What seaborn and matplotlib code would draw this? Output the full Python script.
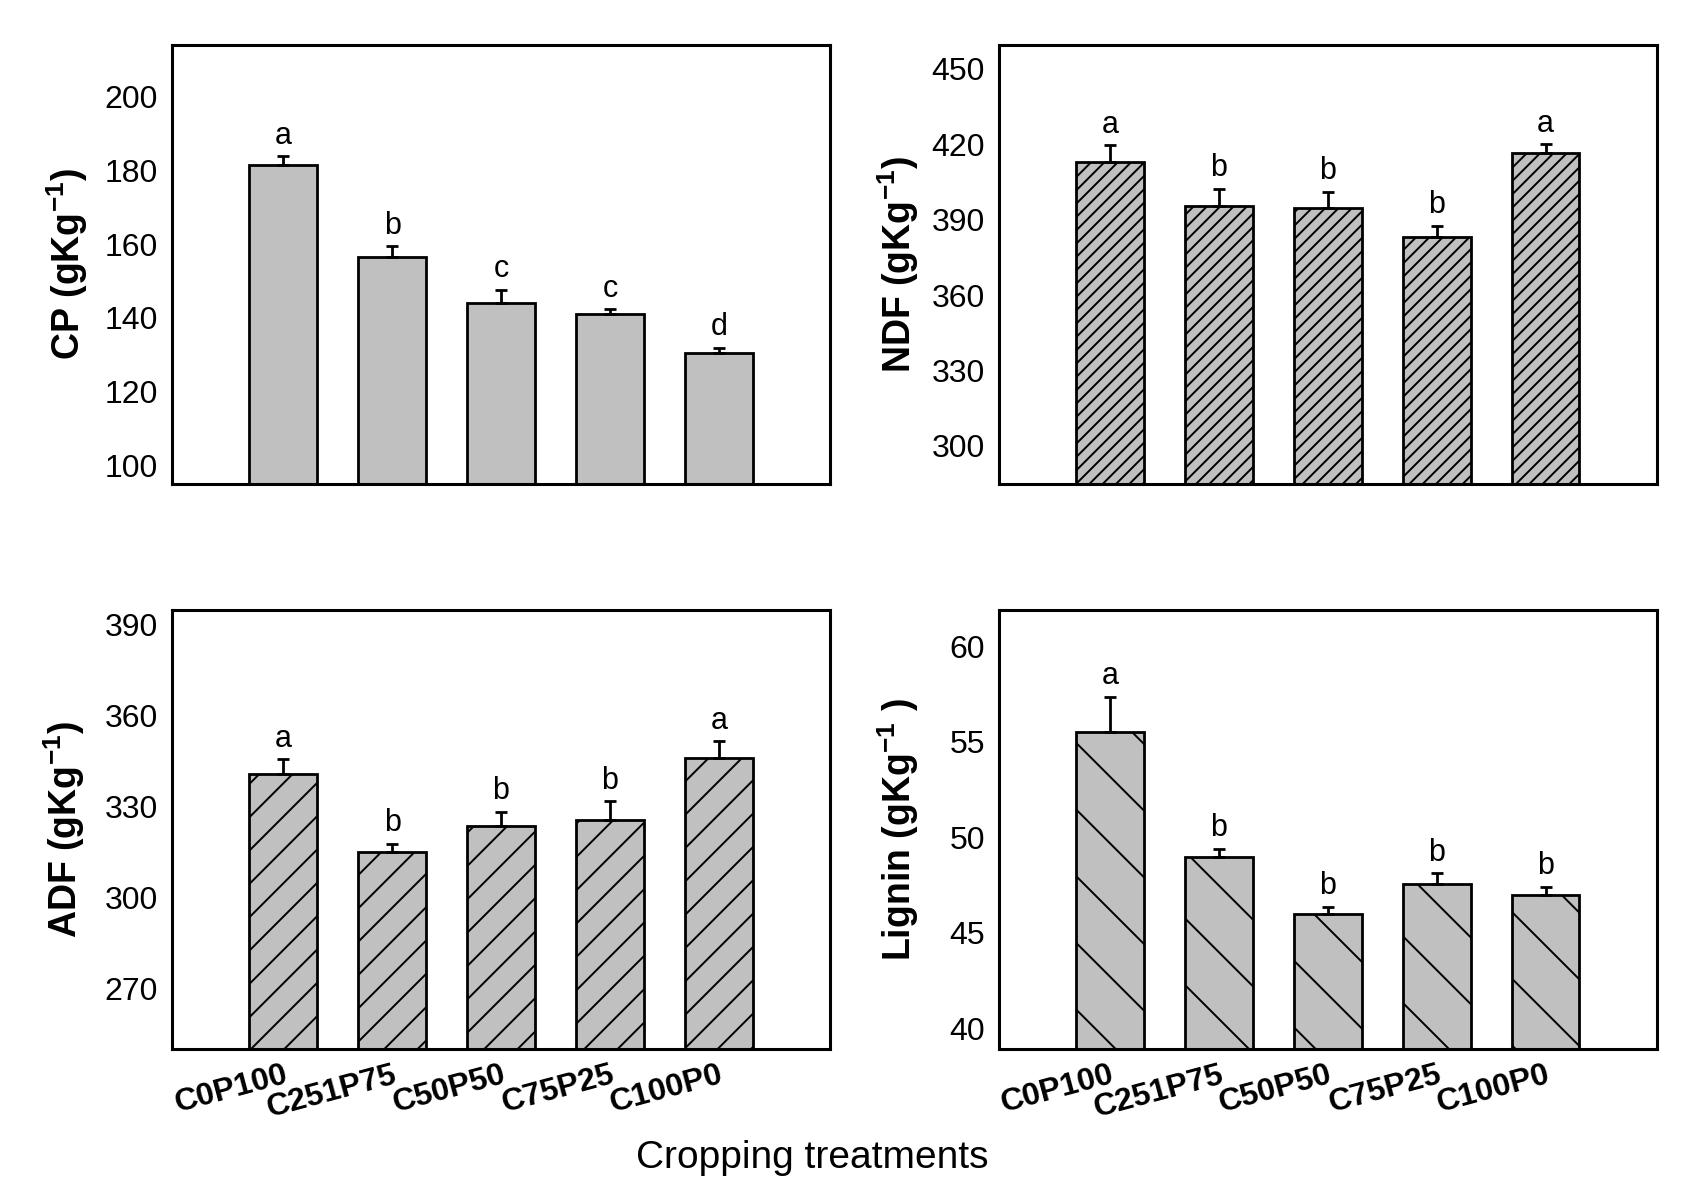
import numpy as np
import seaborn as sns
import matplotlib.pyplot as plt

# Treatments (bottom row tick labels)
treatments = ['C0P100', 'C251P75', 'C50P50', 'C75P25', 'C100P0']

# Means, upper error (SE) and significance letters for each trait
cp_mean = [181.4, 156.4, 144.0, 141.0, 130.6]
cp_err = [2.4, 3.0, 3.6, 1.4, 1.4]
cp_letters = ['a', 'b', 'c', 'c', 'd']

ndf_mean = [413.0, 395.5, 394.5, 383.0, 416.5]
ndf_err = [6.5, 6.8, 6.6, 4.6, 3.4]
ndf_letters = ['a', 'b', 'b', 'b', 'a']

adf_mean = [340.5, 314.8, 323.6, 325.6, 346.0]
adf_err = [5.0, 2.8, 4.6, 6.0, 5.4]
adf_letters = ['a', 'b', 'b', 'b', 'a']

lignin_mean = [55.5, 48.95, 45.95, 47.55, 46.95]
lignin_err = [1.85, 0.45, 0.4, 0.55, 0.45]
lignin_letters = ['a', 'b', 'b', 'b', 'b']

sns.set_style('white')
plt.rcParams['font.family'] = ['Liberation Sans', 'DejaVu Sans']
plt.rcParams['text.color'] = 'black'
plt.rcParams['axes.labelcolor'] = 'black'
plt.rcParams['xtick.color'] = 'black'
plt.rcParams['ytick.color'] = 'black'
plt.rcParams['mathtext.fontset'] = 'custom'
plt.rcParams['mathtext.rm'] = 'Liberation Sans'
plt.rcParams['mathtext.bf'] = 'Liberation Sans:bold'
plt.rcParams['hatch.linewidth'] = 0.7

fig = plt.figure(figsize=(8.5, 5.98), dpi=200)

panels = [
    # values, errors, letters, ylabel, ylim, yticks, hatch, rect, show x labels, label x
    (cp_mean, cp_err, cp_letters, r'CP (gKg$^{\mathbf{-1}}$)', (95, 214),
     np.arange(100, 201, 20), '', [0.1012, 0.5953, 0.387, 0.3671], False, -0.125),
    (ndf_mean, ndf_err, ndf_letters, r'NDF (gKg$^{\mathbf{-1}}$)', (284.8, 459.5),
     np.arange(300, 451, 30), '/////', [0.5876, 0.5953, 0.387, 0.3671], False, -0.119),
    (adf_mean, adf_err, adf_letters, r'ADF (gKg$^{\mathbf{-1}}$)', (250, 394.7),
     np.arange(270, 391, 30), '//', [0.1012, 0.1229, 0.387, 0.3671], True, -0.129),
    (lignin_mean, lignin_err, lignin_letters, r'Lignin (gKg$^{\mathbf{-1}}$ )', (38.9, 61.9),
     np.arange(40, 61, 5), '\\', [0.5876, 0.1229, 0.387, 0.3671], True, -0.119),
]

for vals, errs, letters, ylab, ylim, yticks, hatch, rect, showx, labx in panels:
    ax = fig.add_axes(rect)
    sns.barplot(x=treatments, y=vals, color='#c0c0c0', saturation=1,
                edgecolor='black', linewidth=1.0, width=0.62, ax=ax)
    for p in ax.patches:
        p.set_hatch(hatch)
        p.set_facecolor('#c0c0c0')
    x = np.arange(len(treatments))
    ax.errorbar(x, vals, yerr=[np.zeros(len(vals)), errs], fmt='none',
                ecolor='black', elinewidth=1.0, capsize=2.2, capthick=1.0)
    for xi, v, e, lt in zip(x, vals, errs, letters):
        ax.annotate(lt, (xi, v + e), xytext=(0, 2), textcoords='offset points',
                    ha='center', va='bottom', fontsize=11)
    ax.set_xlim(-1.02, 5.02)
    ax.set_ylim(*ylim)
    ax.set_yticks(yticks)
    ax.tick_params(axis='y', direction='in', length=3, width=0.9,
                   labelsize=11.5, pad=5)
    ax.tick_params(axis='x', length=0)
    if showx:
        ax.set_xticks(x)
        ax.set_xticklabels(treatments, rotation=15, ha='right',
                           rotation_mode='anchor', fontweight='bold', fontsize=11.5)
        ax.tick_params(axis='x', pad=4)
    else:
        ax.set_xticks([])
    ax.set_xlabel('')
    ax.set_ylabel(ylab, fontsize=13.5, fontweight='bold')
    ax.yaxis.set_label_coords(labx, 0.5)
    for s in ax.spines.values():
        s.set_visible(True)
        s.set_linewidth(1.1)
        s.set_color('black')

fig.text(0.478, 0.032, 'Cropping treatments', ha='center', va='center', fontsize=14)

fig.savefig('out.png', dpi=200)
